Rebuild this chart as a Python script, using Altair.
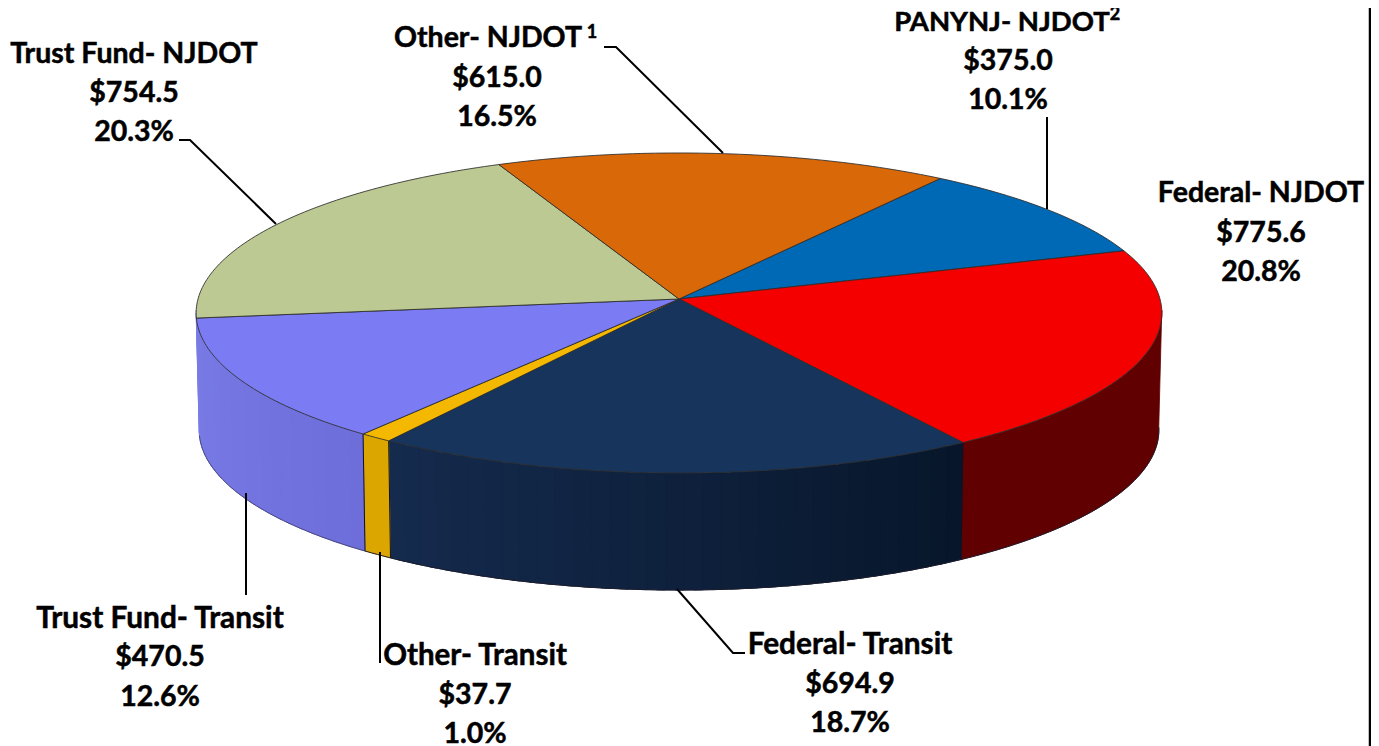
import math
import altair as alt

# ---- data
names = ["PANYNJ- NJDOT", "Federal- NJDOT", "Federal- Transit", "Other- Transit",
         "Trust Fund- Transit", "Trust Fund- NJDOT", "Other- NJDOT"]
values = [375.0, 775.6, 694.9, 37.7, 470.5, 754.5, 615.0]
shares = ["10.1%", "20.8%", "18.7%", "1.0%", "12.6%", "20.3%", "16.5%"]
top_colors = ["#0069b5", "#f40000", "#17345c", "#f5b800", "#7b7bf3", "#bcc992", "#d96808"]
side_from = [None, "#600000", "#07162a", "#dba600", "#6e6edb", None, None]
side_to = [None, "#600000", "#152b4e", "#dba600", "#7a7ce6", None, None]

label_x = [1008, 1261, 850, 475, 160, 134, 497]
title_x = [1002, 1261, 850, 475, 160, 134, 488]
title_size = [27.5, 28.5, 29.8, 29.5, 29.8, 28.5, 28.5]
label_y = [(31, 70, 109), (202, 242, 281), (654, 693, 732), (665, 704, 743),
           (628, 666, 706), (63, 102, 141), (47, 87, 126)]
superscripts = [("2", 1115, 20), ("1", 592, 38)]

leader_paths = [
    [(179, 140), (190, 140), (276, 224)],
    [(604, 47), (616, 47), (723, 153)],
    [(1047, 117), (1047, 209)],
    [(246, 493), (246, 595)],
    [(380, 552), (380, 663)],
    [(677, 589), (733, 653), (745, 653)],
]
frame_path = [(1370, 0), (1370, 746)]

# ---- pie geometry (perspective disc)
START = 35.6
CX, K = 679.0, 0.0875
TOP = dict(a=481.0, b=158.8, cy=299.0)
BOT = dict(a=478.0, b=158.8, cy=416.0)


def pt(theta, lev):
    r = math.radians(theta)
    x, y = math.sin(r), -math.cos(r)
    d = 1 - K * y
    return [CX + lev["a"] * x / d, lev["cy"] + lev["b"] * y / d]


def arc(t0, t1, lev, step=1.0):
    n = max(2, int(abs(t1 - t0) / step) + 1)
    return [pt(t0 + (t1 - t0) * i / n, lev) for i in range(n + 1)]


def poly(ring, **props):
    ring = [list(p) for p in ring]
    if ring[0] != ring[-1]:
        ring.append(ring[0])
    return {"type": "Feature", "properties": props,
            "geometry": {"type": "Polygon", "coordinates": [ring]}}


def line(path, **props):
    return {"type": "Feature", "properties": props,
            "geometry": {"type": "LineString", "coordinates": [list(p) for p in path]}}


def mix(c0, c1, f):
    a = [int(c0[i:i + 2], 16) for i in (1, 3, 5)]
    b = [int(c1[i:i + 2], 16) for i in (1, 3, 5)]
    return "#%02x%02x%02x" % tuple(round(a[i] + (b[i] - a[i]) * f) for i in range(3))


total = sum(values)
edges = [START]
for v in values:
    edges.append(edges[-1] + v / total * 360)

side_feats, top_feats, side_lines = [], [], []
for i, (t0, t1) in enumerate(zip(edges, edges[1:])):
    top_feats.append(poly([[CX, TOP["cy"]]] + arc(t0, t1, TOP), c=top_colors[i]))
    if side_from[i] is None:
        continue
    a0, a1 = max(t0, 94.0), min(t1 + (3.0 if i == 4 else 0), 266.0)
    n = 1 if side_from[i] == side_to[i] else max(1, int((a1 - a0) / 2))
    for j in range(n):
        s0 = a0 + (a1 - a0) * j / n
        s1 = min(a1, a0 + (a1 - a0) * (j + 1) / n + 1.0)
        col = mix(side_from[i], side_to[i], (j + 0.5) / n)
        side_feats.append(poly(arc(s0, s1, TOP, 0.5) + arc(s1, s0, BOT, 0.5), c=col))
    side_lines.append(line(arc(a0, min(a1, 263.0), BOT),
                           c="#4a4a80" if i == 4 else "#1c1c2c"))
    if t0 > 94:
        side_lines.append(line([pt(t0, TOP), pt(t0, BOT)], c="#111122"))

proj = dict(type="identity", scale=1, translate=[-8, -8])


def shapes(feats):
    return alt.Chart(alt.Data(values=feats))


sides = shapes(side_feats).mark_geoshape(strokeWidth=0.8).encode(
    fill=alt.Fill("properties.c:N", scale=None, legend=None),
    stroke=alt.Stroke("properties.c:N", scale=None, legend=None),
).project(**proj)
edge_lines = shapes(side_lines).mark_geoshape(filled=False, strokeWidth=1).encode(
    stroke=alt.Stroke("properties.c:N", scale=None, legend=None),
).project(**proj)
tops = shapes(top_feats).mark_geoshape(stroke="#2b2b2b", strokeWidth=1, strokeOpacity=0.85).encode(
    fill=alt.Fill("properties.c:N", scale=None, legend=None),
).project(**proj)
leaders = shapes([line(p) for p in leader_paths]).mark_geoshape(
    filled=False, stroke="#000000", strokeWidth=2).project(**proj)
frame = shapes([line(frame_path)]).mark_geoshape(
    filled=False, stroke="#000000", strokeWidth=2.5).project(**proj)

rows = []
for i, name in enumerate(names):
    lines = [name, f"${values[i]:.1f}", shares[i]]
    xs = [title_x[i], label_x[i], label_x[i]]
    sizes = [title_size[i], 28.5, 28.5]
    for txt, x, y, s in zip(lines, xs, label_y[i], sizes):
        rows.append({"t": txt, "x": x, "y": y, "s": s})
for txt, x, y in superscripts:
    rows.append({"t": txt, "x": x, "y": y, "s": 18})

labels = alt.Chart(alt.Data(values=rows)).mark_text(
    font="Lato", fontWeight="bold", align="center", baseline="alphabetic",
    color="#000000", stroke="#000000", strokeWidth=0.5,
).encode(longitude="x:Q", latitude="y:Q", text="t:N",
         size=alt.Size("s:Q", scale=None, legend=None)).project(**proj)

chart = alt.layer(sides, edge_lines, tops, leaders, frame, labels).properties(
    width=1363, height=738, padding=0, autosize="none", background="#ffffff",
).configure_view(stroke=None)

chart.save("out.html", embed_options={"renderer": "svg", "actions": False})
